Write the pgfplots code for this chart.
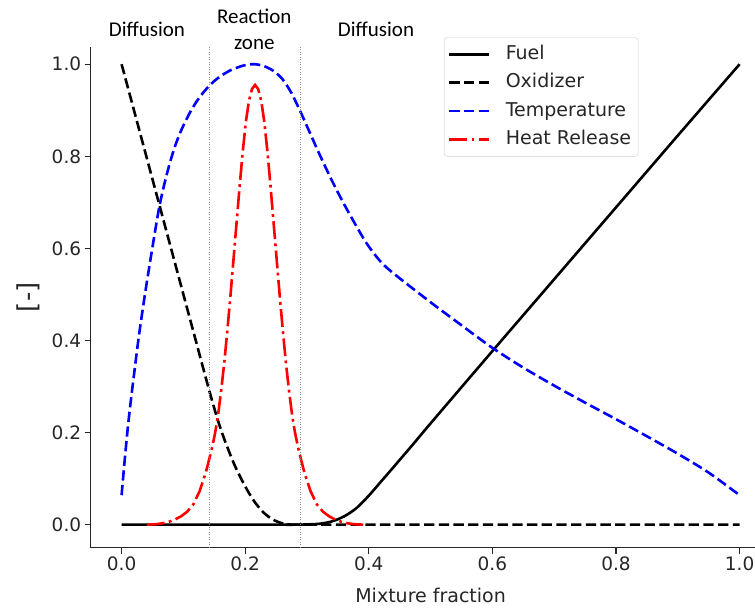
\documentclass[border=0pt]{standalone}
\usepackage{fontspec}
\setmainfont{DejaVu Sans}
\newfontfamily\carlito{Carlito}
\usepackage{pgfplots}
\pgfplotsset{compat=1.18}
\begin{document}
\begin{tikzpicture}[x=1pt,y=1pt]
\begin{axis}[
  at={(90.7pt,62.3pt)}, anchor=south west,
  scale only axis, width=679.8pt, height=501pt,
  xmin=-0.05, xmax=1.05, ymin=-0.05, ymax=1.038,
  axis x line*=bottom, axis y line*=left,
  axis line style={line width=1.1pt, black!85, -},
  tick align=outside, major tick length=6pt,
  tick style={line width=1.1pt, black!85},
  xtick={0,0.2,0.4,0.6,0.8,1.0}, ytick={0,0.2,0.4,0.6,0.8,1.0},
  /pgf/number format/fixed, /pgf/number format/fixed zerofill,
  /pgf/number format/precision=1, /pgf/number format/assume math mode=true,
  ticklabel style={font=\fontsize{18.5}{22}\selectfont, text=black!85},
  xlabel={Mixture fraction},
  xlabel style={font=\fontsize{19}{22}\selectfont, text=black!85, at={(axis description cs:0.5,-0.110)}, anchor=base},
  ylabel={[-]},
  ylabel style={font=\fontsize{26}{30}\selectfont, text=black!85, at={(axis description cs:-0.0922,0.5)}, anchor=center},
  clip=false,
  legend cell align=left,
  legend image code/.code={\draw[#1] (0pt,0pt) -- (40pt,0pt);},
  legend style={at={(0.5197,1.0188)}, anchor=north west, draw=black!20, rounded corners=3pt,
    fill=white, font=\fontsize{19}{22}\selectfont, text=black!85,
    inner xsep=4pt, inner ysep=6pt, row sep=6.3pt,
    nodes={text height=14pt, text depth=4pt, inner ysep=2pt, inner xsep=3pt},
    /tikz/every odd column/.append style={column sep=12pt}},
]
\addplot[black, line width=2.6pt, smooth, tension=0.5] coordinates {
(0,0) (0.14,0) (0.26,0) (0.28,0) (0.30,0.0005) (0.32,0.002) (0.34,0.007) (0.36,0.018) (0.38,0.036) (0.40,0.063) (0.42,0.094) (0.44,0.125) (0.47,0.172) (0.5,0.22) (0.6,0.377) (0.7,0.533) (0.8,0.689) (0.9,0.845) (1.0,1.0)};
\addlegendentry{Fuel}
\addplot[black, line width=2.6pt, dash pattern=on 10.3pt off 4.4pt, smooth, tension=0.5] coordinates {
(0,1) (0.02,0.9) (0.04,0.8) (0.06,0.7) (0.08,0.6) (0.1,0.5) (0.12,0.4) (0.135,0.325) (0.145,0.276) (0.155,0.23) (0.165,0.19) (0.175,0.155) (0.185,0.123) (0.2,0.083) (0.215,0.05) (0.23,0.026) (0.245,0.011) (0.26,0.003) (0.275,0.0) (0.29,0) (0.6,0) (1.0,0)};
\addlegendentry{Oxidizer}
\addplot[blue, line width=2.6pt, dash pattern=on 10.3pt off 4.4pt, smooth, tension=0.5] coordinates {
(0,0.064) (0.005,0.14) (0.01,0.21) (0.015,0.27) (0.02,0.325) (0.028,0.41) (0.038,0.502) (0.05,0.603) (0.061,0.69) (0.072,0.755) (0.084,0.812) (0.096,0.855) (0.111,0.896) (0.125,0.926) (0.141,0.952) (0.157,0.971) (0.175,0.986) (0.19,0.994) (0.2,0.998) (0.215,1.0) (0.23,0.996) (0.245,0.986) (0.26,0.968) (0.275,0.937) (0.29,0.895) (0.305,0.85) (0.32,0.805) (0.34,0.748) (0.36,0.696) (0.38,0.648) (0.395,0.614) (0.41,0.586) (0.425,0.563) (0.45,0.535) (0.5,0.483) (0.55,0.433) (0.6,0.384) (0.65,0.341) (0.7,0.302) (0.75,0.265) (0.8,0.229) (0.85,0.192) (0.9,0.154) (0.95,0.113) (1.0,0.064)};
\addlegendentry{Temperature}
\addplot[red, line width=2.6pt, dash pattern=on 17.8pt off 4.4pt on 2.8pt off 4.4pt] coordinates {
(0.041,0) (0.056,0.001) (0.066,0.003) (0.076,0.006) (0.086,0.011) (0.096,0.018) (0.106,0.028) (0.116,0.044) (0.126,0.072) (0.136,0.112) (0.141,0.138) (0.146,0.165) (0.151,0.197) (0.156,0.237) (0.161,0.29) (0.166,0.35) (0.171,0.42) (0.176,0.495) (0.181,0.575) (0.186,0.655) (0.191,0.735) (0.196,0.81) (0.201,0.874) (0.206,0.92) (0.211,0.946) (0.216,0.955) (0.221,0.946) (0.226,0.92) (0.231,0.874) (0.236,0.81) (0.241,0.735) (0.246,0.655) (0.251,0.575) (0.256,0.495) (0.261,0.42) (0.266,0.35) (0.271,0.29) (0.276,0.237) (0.281,0.197) (0.286,0.165) (0.291,0.138) (0.296,0.112) (0.306,0.072) (0.316,0.044) (0.326,0.028) (0.336,0.018) (0.346,0.011) (0.356,0.006) (0.366,0.003) (0.376,0.001) (0.391,0)};
\addlegendentry{Heat Release}
\addplot[forget plot, black!45, line width=0.9pt, dash pattern=on 1pt off 1.5pt] coordinates {(0.1425,-0.05) (0.1425,1.038)};
\addplot[forget plot, black!45, line width=0.9pt, dash pattern=on 1pt off 1.5pt] coordinates {(0.289,-0.05) (0.289,1.038)};
\node[font=\carlito\fontsize{21}{26.3}\selectfont, align=center] at (axis cs:0.041,1.076) {Diffusion};
\node[font=\carlito\fontsize{21}{26.3}\selectfont, align=center] at (axis cs:0.2147,1.075) {Reaction\\zone};
\node[font=\carlito\fontsize{21}{26.3}\selectfont, align=center] at (axis cs:0.4117,1.076) {Diffusion};
\end{axis}
\pgfresetboundingbox
\useasboundingbox (0,0) rectangle (755,610);
\end{tikzpicture}
\end{document}
